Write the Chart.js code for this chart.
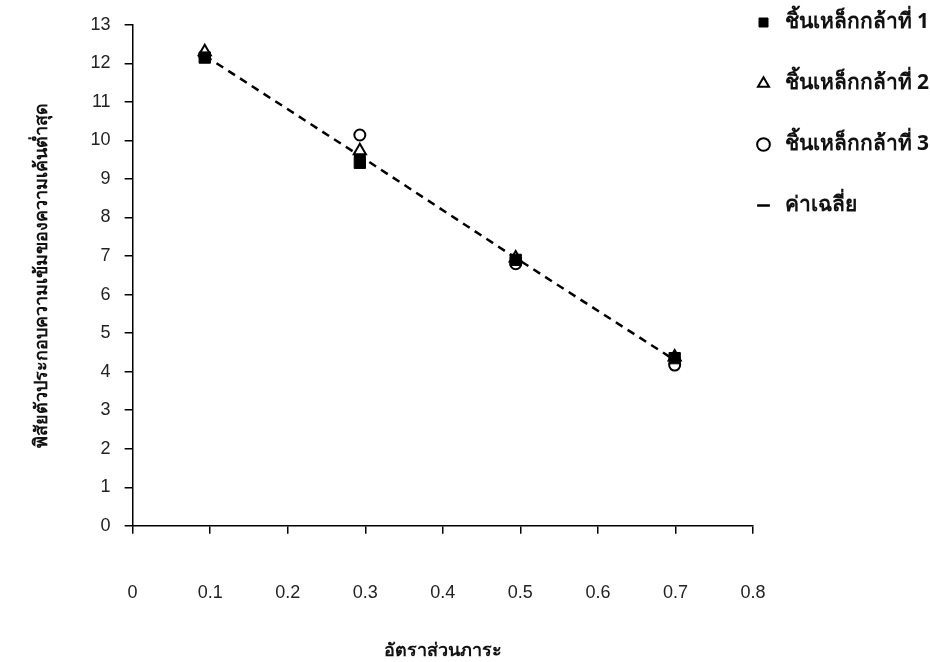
<!DOCTYPE html>
<html lang="th">
<head>
	<meta charset="UTF-8"/>
	<title>อัตราส่วนภาระ</title>
	<script src="https://cdn.jsdelivr.net/npm/chart.js"></script>
	<style>
		body {
			margin: 0;
			background: #fff;
		}
		#wrap {
			width: 930px;
			height: 662px;
		}
	</style>
</head>
<body>
<div id="wrap">
	<canvas id="myChart" width="930" height="662"></canvas>
</div>

<script>
	// อัตราส่วนภาระ (ตามที่อ่านได้จากภาพ)
	const loadRatio = [0.093, 0.293, 0.494, 0.699];

	const steel1 = [12.15, 9.42, 6.9, 4.35];
	const steel2 = [12.3, 9.73, 6.95, 4.38];
	const steel3 = [12.2, 10.14, 6.8, 4.17];
	const average = [12.2, 9.6, 6.95, 4.3];

	const seriesLabels = ["ชิ้นเหล็กกล้าที่ 1", "ชิ้นเหล็กกล้าที่ 2", "ชิ้นเหล็กกล้าที่ 3", "ค่าเฉลี่ย"];
	const xTitle = "อัตราส่วนภาระ";
	const yTitle = "พิสัยตัวประกอบความเข้มของความเค้นต่ำสุด";

	const toPoints = ys => loadRatio.map((x, i) => ({ x: x, y: ys[i] }));

	const numFont = { family: "'Liberation Sans', Arial, sans-serif", size: 18 };
	const thaiFont = { family: "'Noto Sans', 'DejaVu Sans', sans-serif", size: 18, weight: "bold" };
	const legendPad = 40;

	// legend sits close to the plot, so pull it up/left by its own padding
	const legendNudge = {
		id: "legendNudge",
		afterLayout(chart) {
			if (!chart.legend) return;
			chart.legend.left -= legendPad;
			chart.legend.top -= legendPad - 4;
		}
	};

	const ctx = document.getElementById("myChart").getContext("2d");
	const myChart = new Chart(ctx, {
		type: "scatter",
		data: {
			datasets: [
				{
					label: seriesLabels[0],
					data: toPoints(steel1),
					pointStyle: "rect",
					pointRadius: 8,
					backgroundColor: "#000",
					borderColor: "#000",
					borderWidth: 1
				},
				{
					label: seriesLabels[1],
					data: toPoints(steel2),
					pointStyle: "triangle",
					pointRadius: 7,
					backgroundColor: "#fff",
					borderColor: "#000",
					borderWidth: 2
				},
				{
					label: seriesLabels[2],
					data: toPoints(steel3),
					pointStyle: "circle",
					pointRadius: 5.5,
					backgroundColor: "#fff",
					borderColor: "#000",
					borderWidth: 2
				},
				{
					label: seriesLabels[3],
					data: toPoints(average),
					showLine: true,
					borderDash: [8, 6],
					pointStyle: "line",
					pointRadius: 6,
					backgroundColor: "#000",
					borderColor: "#000",
					borderWidth: 2.5
				}
			]
		},
		options: {
			responsive: false,
			animation: false,
			layout: {
				padding: { top: 8, left: 31, right: 0, bottom: 0 }
			},
			plugins: {
				tooltip: { enabled: false },
				legend: {
					position: "right",
					align: "start",
					maxWidth: 177,
					labels: {
						usePointStyle: true,
						boxHeight: 9,
						padding: legendPad,
						color: "#111",
						font: { family: thaiFont.family, size: 21, weight: "bold" }
					}
				}
			},
			scales: {
				x: {
					type: "linear",
					min: 0,
					max: 0.8,
					ticks: { stepSize: 0.1, color: "#222", font: numFont, padding: 48 },
					grid: { drawOnChartArea: false, drawTicks: true, tickLength: 8, color: "#000", lineWidth: 1.5 },
					border: { color: "#000", width: 1.5 },
					title: { display: true, text: xTitle, color: "#111", font: thaiFont, padding: { top: -11, bottom: 0 } }
				},
				y: {
					min: 0,
					max: 13,
					ticks: { stepSize: 1, color: "#222", font: numFont, padding: 14 },
					grid: { drawOnChartArea: false, drawTicks: true, tickLength: 8, color: "#000", lineWidth: 1.5 },
					border: { color: "#000", width: 1.5 },
					title: { display: true, text: yTitle, color: "#111", font: thaiFont, padding: { top: 0, bottom: 24 } }
				}
			}
		},
		plugins: [legendNudge]
	});
</script>
</body>
</html>
